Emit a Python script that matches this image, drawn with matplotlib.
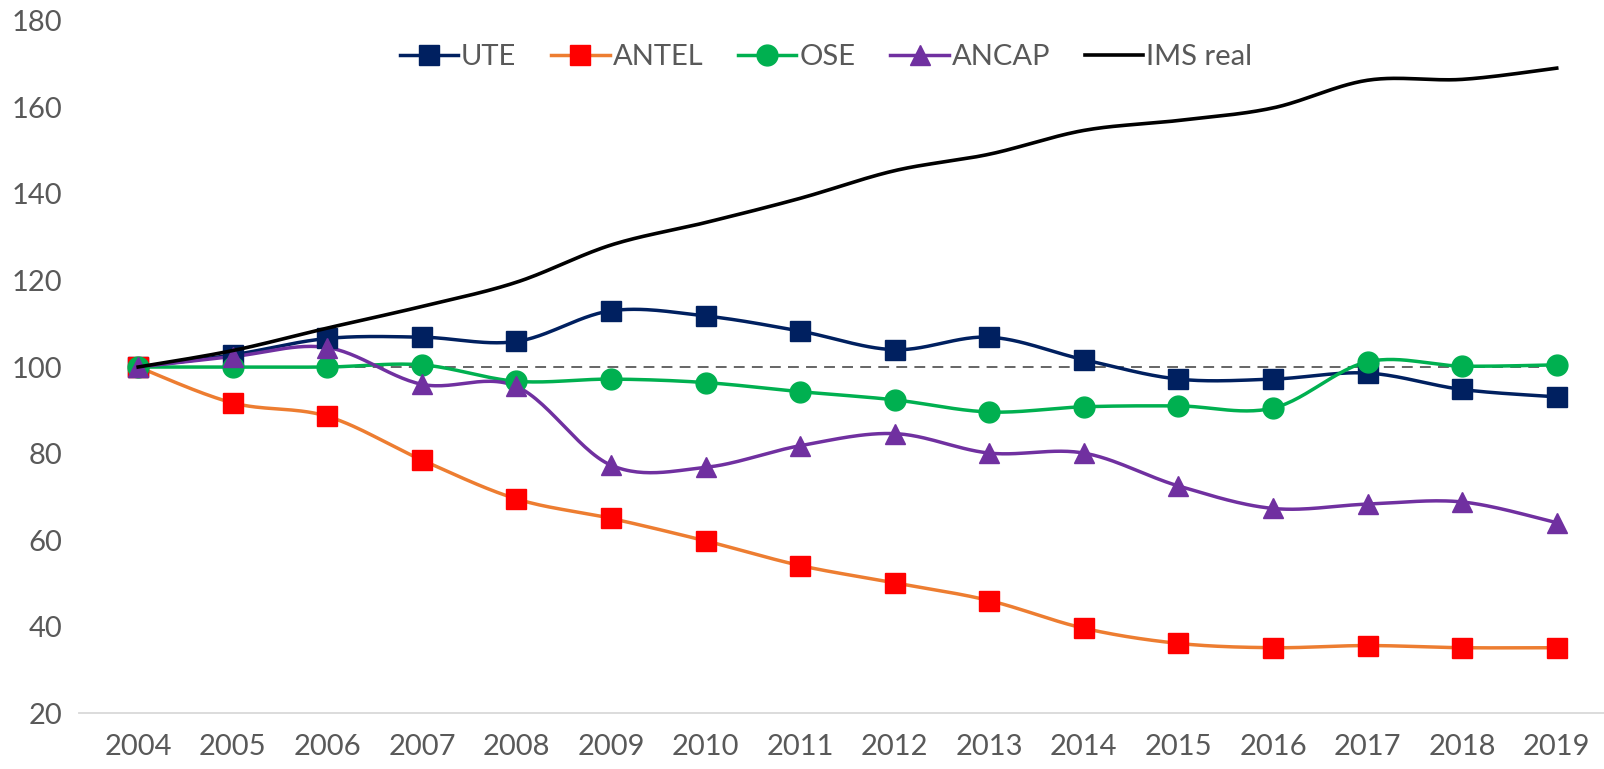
import numpy as np
import matplotlib.pyplot as plt
from matplotlib.lines import Line2D

years = [str(y) for y in range(2004, 2020)]
ute = [100, 102.8, 106.6, 106.9, 105.9, 113.0, 111.8, 108.3, 104.0, 106.9, 101.7, 97.2, 97.2, 98.6, 94.8, 93.1]
antel = [100, 91.7, 88.6, 78.5, 69.5, 65.0, 59.8, 54.1, 50.1, 46.0, 39.6, 36.1, 35.1, 35.6, 35.1, 35.1]
ose = [100, 100.0, 100.0, 100.5, 96.7, 97.2, 96.4, 94.3, 92.4, 89.6, 90.8, 91.0, 90.5, 101.2, 100.2, 100.5]
ancap = [100, 102.4, 104.5, 96.0, 95.5, 77.3, 76.8, 81.8, 84.6, 80.1, 80.1, 72.5, 67.3, 68.3, 68.8, 64.0]
ims = [100, 103.8, 109.0, 114.0, 119.6, 128.2, 133.4, 139.0, 145.4, 149.2, 154.7, 157.0, 159.9, 166.3, 166.5, 169.1]


def smooth(x, y, n=30):
    # excel-like bezier smoothing through the points
    x = np.asarray(x, float)
    y = np.asarray(y, float)
    xs, ys = [], []
    t = np.linspace(0, 1, n)
    for i in range(len(x) - 1):
        i0 = max(i - 1, 0)
        i3 = min(i + 2, len(x) - 1)
        p0 = np.array([x[i], y[i]])
        p3 = np.array([x[i + 1], y[i + 1]])
        p1 = p0 + (np.array([x[i + 1], y[i + 1]]) - np.array([x[i0], y[i0]])) / 6
        p2 = p3 - (np.array([x[i3], y[i3]]) - np.array([x[i], y[i]])) / 6
        b = ((1 - t) ** 3)[:, None] * p0 + (3 * (1 - t) ** 2 * t)[:, None] * p1 \
            + (3 * (1 - t) * t ** 2)[:, None] * p2 + (t ** 3)[:, None] * p3
        xs.extend(b[:, 0])
        ys.extend(b[:, 1])
    return np.array(xs), np.array(ys)


fig = plt.figure(figsize=(16.04, 7.69), dpi=100)
ax = fig.add_axes([0.049, 0.0728, 0.951, 0.8999])

x = np.arange(len(years))
ax.plot([0, len(years) - 1], [100, 100], color='#595959', lw=1.3, ls=(0, (6, 4)), zorder=1)

series = [
    ('UTE', ute, '#002060', '#002060', 's', 14),
    ('ANTEL', antel, '#ED7D31', '#FF0000', 's', 14),
    ('OSE', ose, '#00B050', '#00B050', 'o', 15),
    ('ANCAP', ancap, '#7030A0', '#7030A0', '^', 15),
]
handles = []
for name, vals, lc, mc, mk, ms in series:
    sx, sy = smooth(x, vals)
    ax.plot(sx, sy, color=lc, lw=2.5, zorder=2)
    ax.plot(x, vals, ls='none', marker=mk, ms=ms, color=mc, zorder=3)
    handles.append(Line2D([], [], color=lc, lw=2.5, marker=mk, ms=ms, mfc=mc, mec=mc, label=name))

sx, sy = smooth(x, ims)
ax.plot(sx, sy, color='black', lw=2.6, zorder=4)
handles.append(Line2D([], [], color='black', lw=2.6, label='IMS real'))

ax.set_xlim(-0.63, 15.5)
ax.set_ylim(20, 180)
ax.set_yticks(range(20, 181, 20))
ax.set_xticks(x)
ax.set_xticklabels(years)
for s in ['top', 'right', 'left']:
    ax.spines[s].set_visible(False)
ax.spines['bottom'].set_color('#D9D9D9')
ax.spines['bottom'].set_linewidth(1.3)
ax.tick_params(length=0, labelsize=21, colors='#595959', labelfontfamily='Lato')
ax.tick_params(axis='x', pad=15)
ax.tick_params(axis='y', pad=12)

ax.legend(handles=handles, loc='upper center', bbox_to_anchor=(0.49, 1.005), ncol=5, frameon=False,
          prop={'family': 'Lato', 'size': 21}, labelcolor='#595959', handlelength=2.0,
          handletextpad=0.1, columnspacing=1.2)

fig.savefig('out.png', dpi=100)
